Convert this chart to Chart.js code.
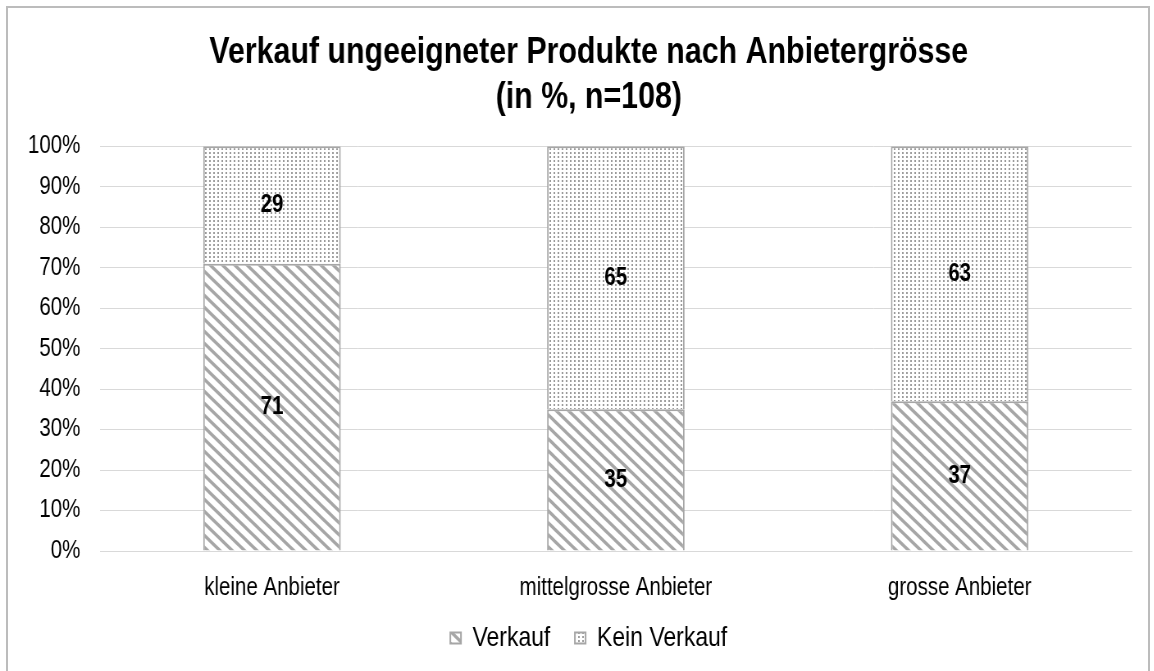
<!DOCTYPE html>
<html>
<head>
<meta charset="utf-8">
<script src="https://cdn.jsdelivr.net/npm/chart.js@4"></script>
<style>
    body { margin: 0; background: #fff; overflow: hidden; }
    #frame { position: absolute; left: 6px; top: 6px; width: 1144px; height: 700px; border: 2px solid #bcbcbc; box-sizing: border-box; pointer-events: none; }
    /* no narrow font installed: draw wide, squeeze horizontally */
    canvas { position: absolute; left: 0; top: 0; transform: scaleX(0.82); transform-origin: 0 0; }
</style>
</head>
<body>
<canvas id="bar-chart" width="1407" height="671"></canvas>
<div id="frame"></div>
<script>
const categories = ['kleine Anbieter', 'mittelgrosse Anbieter', 'grosse Anbieter'];
const verkauf = [71, 35, 37];
const keinVerkauf = [29, 65, 63];
const seriesNames = ['Verkauf', 'Kein Verkauf'];
const titleLines = ['Verkauf ungeeigneter Produkte nach Anbietergrösse', '(in %, n=108)'];

const FONT = "'Liberation Sans', Arial, sans-serif";

document.addEventListener('DOMContentLoaded', () => {
    const canvas = document.getElementById('bar-chart');
    const ctx = canvas.getContext('2d');

    function stripes() {
        const c = document.createElement('canvas');
        c.width = 15; c.height = 12;
        const g = c.getContext('2d');
        g.fillStyle = '#fff';
        g.fillRect(0, 0, 15, 12);
        g.strokeStyle = '#a6a6a6';
        g.lineWidth = 3.4;
        for (let k = -1; k <= 1; k++) {
            g.beginPath();
            g.moveTo(-2.5, -2 + 12 * k);
            g.lineTo(17.5, 14 + 12 * k);
            g.stroke();
        }
        return ctx.createPattern(c, 'repeat');
    }

    function dots() {
        const c = document.createElement('canvas');
        c.width = 5; c.height = 4;
        const g = c.getContext('2d');
        g.fillStyle = '#fff';
        g.fillRect(0, 0, 5, 4);
        g.fillStyle = '#9a9a9a';
        g.fillRect(0, 0, 2, 2);
        return ctx.createPattern(c, 'repeat');
    }

    // numbers in the middle of each segment
    const segmentLabels = {
        id: 'segmentLabels',
        afterDatasetsDraw(chart) {
            const c = chart.ctx;
            c.save();
            c.font = 'bold 25px ' + FONT;
            c.fillStyle = '#000';
            c.textAlign = 'center';
            c.textBaseline = 'middle';
            chart.data.datasets.forEach((ds, i) => {
                chart.getDatasetMeta(i).data.forEach((bar, j) => {
                    const p = bar.getProps(['x', 'y', 'base'], true);
                    c.fillText(ds.data[j], p.x, (p.y + p.base) / 2);
                });
            });
            c.restore();
        }
    };

    // title and legend sit a bit right of the canvas centre in the original
    const nudge = {
        id: 'nudge',
        afterLayout(chart) {
            const dx = 28;
            chart.titleBlock.left += dx;
            chart.titleBlock.right += dx;
            chart.legend.left += dx;
            chart.legend.right += dx;
            chart.legend.top -= 9;
            chart.legend.bottom -= 9;
        }
    };

    new Chart(canvas, {
        type: 'bar',
        data: {
            labels: categories,
            datasets: [{
                label: seriesNames[0],
                data: verkauf,
                backgroundColor: stripes(),
                borderColor: '#a6a6a6',
                borderWidth: 2
            }, {
                label: seriesNames[1],
                data: keinVerkauf,
                backgroundColor: dots(),
                borderColor: '#a6a6a6',
                borderWidth: 2
            }]
        },
        options: {
            responsive: false,
            animation: false,
            categoryPercentage: 1,
            barPercentage: 0.4,
            layout: { padding: { left: 0, right: 27, top: 0, bottom: 0 } },
            plugins: {
                title: {
                    display: true,
                    text: titleLines,
                    color: '#000',
                    font: { family: FONT, size: 37, weight: 'bold', lineHeight: 1.22 },
                    padding: { top: 30, bottom: 26 }
                },
                legend: {
                    position: 'bottom',
                    labels: {
                        color: '#000',
                        font: { family: FONT, size: 28 },
                        boxWidth: 13,
                        boxHeight: 11,
                        padding: 30
                    }
                },
                tooltip: { enabled: false }
            },
            scales: {
                x: {
                    stacked: true,
                    grid: { display: false },
                    border: { color: '#d9d9d9' },
                    ticks: { color: '#000', font: { family: FONT, size: 25 }, padding: 14 },
                    afterFit: scale => { scale.height = 52; }
                },
                y: {
                    stacked: true,
                    min: 0,
                    max: 100,
                    grid: { color: '#d9d9d9', drawTicks: false },
                    border: { display: false },
                    ticks: {
                        stepSize: 10,
                        color: '#000',
                        font: { family: FONT, size: 25 },
                        padding: 24,
                        callback: v => v + '%'
                    },
                    afterFit: scale => { scale.width = 122; }
                }
            }
        },
        plugins: [segmentLabels, nudge]
    });
});
</script>
</body>
</html>
